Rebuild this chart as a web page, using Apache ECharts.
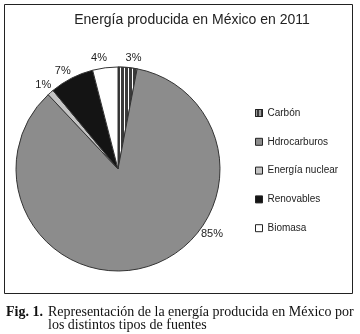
<!DOCTYPE html>
<html>
<head>
<meta charset="utf-8">
<script src="https://cdn.jsdelivr.net/npm/echarts@6/dist/echarts.min.js"></script>
<style>
  html, body { margin: 0; padding: 0; background: #fff; }
  #chart { width: 360px; height: 334px; }
</style>
</head>
<body>
<div id="chart"></div>
<script>
// datos de la grafica
var fuentes = ['Carbón', 'Hdrocarburos', 'Energía nuclear', 'Renovables', 'Biomasa'];
var porcentajes = [3, 85, 1, 7, 4];
var colores = ['#3a3a3a', '#8c8c8c', '#c4c4c4', '#141414', '#ffffff'];

var myChart = echarts.init(document.getElementById('chart'));

var pieData = fuentes.map(function (name, i) {
    var item = {
        name: name,
        value: porcentajes[i],
        itemStyle: { color: colores[i] }
    };
    if (i === 0) {
        // carbon va rayado
        item.itemStyle.decal = {
            symbol: 'rect',
            symbolSize: 1,
            color: '#ffffff',
            dashArrayX: [1, 3],
            dashArrayY: [10, 0],
            rotation: 0
        };
    }
    return item;
});

myChart.setOption({
    animation: false,
    title: {
        text: 'Energía producida en México en 2011',
        left: 187,
        textAlign: 'center',
        top: 8,
        textStyle: {
            fontFamily: 'Liberation Sans',
            fontSize: 14,
            fontWeight: 'normal',
            color: '#222'
        }
    },
    legend: {
        orient: 'vertical',
        left: 255,
        top: 108,
        padding: 0,
        itemWidth: 7,
        itemHeight: 7,
        itemGap: 18.8,
        icon: 'rect',
        data: fuentes,
        itemStyle: { borderColor: '#222', borderWidth: 1 },
        textStyle: {
            fontFamily: 'Liberation Sans',
            fontSize: 10,
            color: '#222'
        }
    },
    graphic: [
        {
            type: 'rect',
            shape: { x: 4.5, y: 4.5, width: 348, height: 289 },
            style: { fill: 'none', stroke: '#222', lineWidth: 1 },
            silent: true
        },
        {
            type: 'text',
            left: 6,
            top: 305,
            style: {
                text: 'Fig. 1.',
                font: 'bold 14px "Liberation Serif"',
                fill: '#111'
            }
        },
        {
            type: 'text',
            left: 48,
            top: 305,
            style: {
                text: 'Representación de la energía producida en México por\nlos distintos tipos de fuentes',
                font: '14px "Liberation Serif"',
                lineHeight: 13,
                fill: '#111'
            }
        }
    ],
    series: [
        {
            name: 'Energía',
            type: 'pie',
            center: [118, 169],
            radius: 102,
            startAngle: 90,
            clockwise: true,
            itemStyle: { borderColor: '#333', borderWidth: 1 },
            label: {
                position: 'outside',
                formatter: '{c}%',
                fontFamily: 'Liberation Sans',
                fontSize: 11,
                color: '#222'
            },
            labelLine: { show: false, length: 10, length2: 0 },
            labelLayout: function (params) {
                if (params.dataIndex === 1) {
                    return { x: 212, y: 234, align: 'center', verticalAlign: 'middle' };
                }
                return { align: 'center', verticalAlign: 'middle' };
            },
            emphasis: { disabled: true },
            data: pieData
        }
    ]
});
</script>
</body>
</html>
